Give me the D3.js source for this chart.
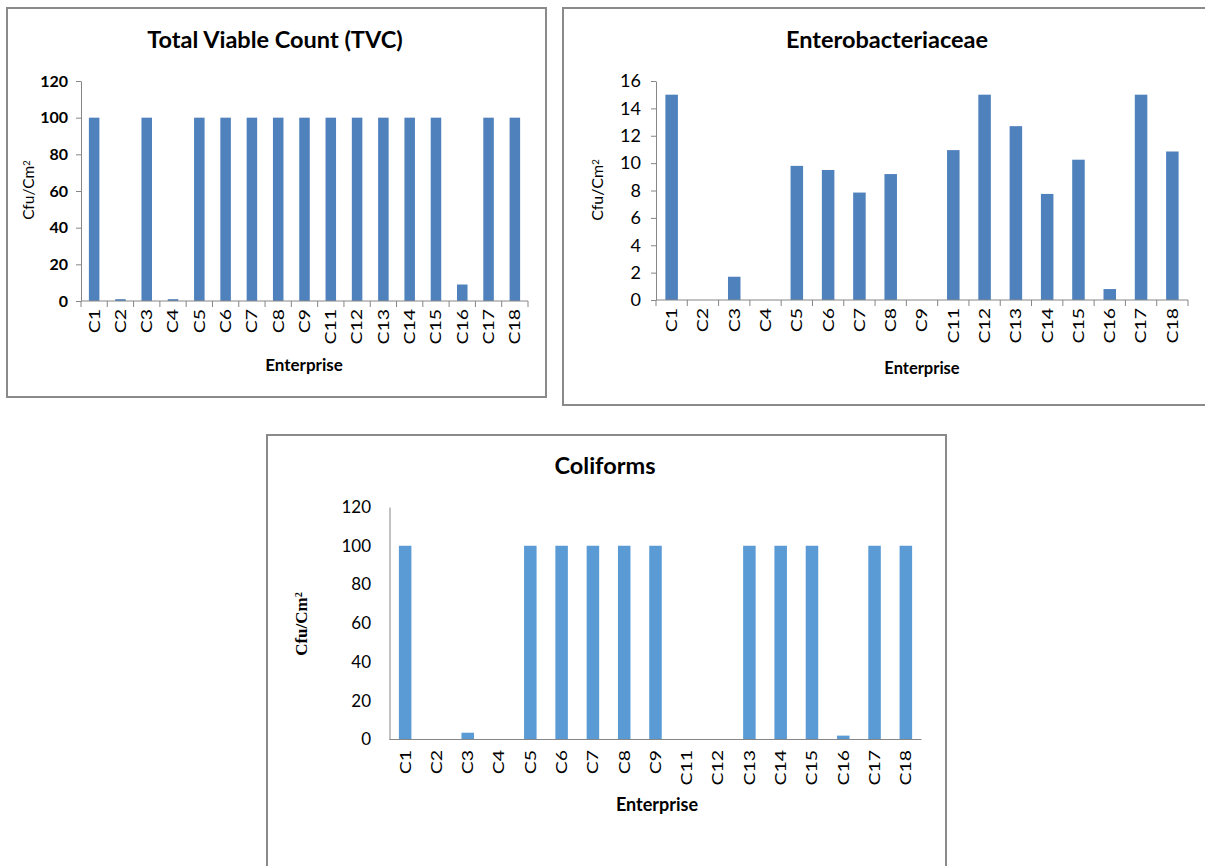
<!DOCTYPE html>
<html>
<head>
<meta charset="utf-8">
<script src="https://cdn.jsdelivr.net/npm/d3@7"></script>
<style>
  html, body { margin: 0; padding: 0; background: #fff; }
  svg { display: block; }
  text { font-family: Lato, "Open Sans", sans-serif; fill: #000; }
</style>
</head>
<body>
<svg id="chart" width="1205" height="866"></svg>
<script>
// Enterprises sampled (C10 was not sampled)
const tvcEnterprises = ["C1","C2","C3","C4","C5","C6","C7","C8","C9","C11","C12","C13","C14","C15","C16","C17","C18"];
const enteroEnterprises = tvcEnterprises.slice();
const coliEnterprises = tvcEnterprises.slice();

// Counts in Cfu/Cm²
const tvcValues    = [100, 1, 100, 1, 100, 100, 100, 100, 100, 100, 100, 100, 100, 100, 9, 100, 100];
const enteroValues = [15, 0, 1.7, 0, 9.8, 9.5, 7.85, 9.2, 0, 10.95, 15, 12.7, 7.75, 10.25, 0.8, 15, 10.85];
const coliValues   = [100, 0, 3.5, 0, 100, 100, 100, 100, 100, 0, 0, 100, 100, 100, 2, 100, 100];

// Y tick labels
const tvcTicks    = [0, 20, 40, 60, 80, 100, 120];
const enteroTicks = [0, 2, 4, 6, 8, 10, 12, 14, 16];
const coliTicks   = [0, 20, 40, 60, 80, 100, 120];

const svg = d3.select("#chart");

function drawPanel(p) {
  const g = svg.append("g");

  // chart frame
  g.append("rect")
    .attr("x", p.frame[0]).attr("y", p.frame[1])
    .attr("width", p.frame[2]).attr("height", p.frame[3])
    .attr("fill", "#fff").attr("stroke", "#8a8a8a").attr("stroke-width", 2);

  const x = d3.scaleBand().domain(p.cats).range([p.x0, p.x1]).paddingInner(0.6).paddingOuter(0.3);
  const y = d3.scaleLinear().domain([0, d3.max(p.ticks)]).range([p.y0, p.y1]);

  // bars
  g.append("g").selectAll("rect").data(p.values).join("rect")
    .attr("x", (d, i) => x(p.cats[i]))
    .attr("y", d => y(d))
    .attr("width", x.bandwidth())
    .attr("height", d => y(0) - y(d))
    .attr("fill", p.color);

  // y axis
  const yAxis = d3.axisLeft(y).tickValues(p.ticks).tickSize(p.tickLen).tickPadding(p.yPad).tickSizeOuter(0);
  const ya = g.append("g").attr("transform", `translate(${p.x0},0)`).call(yAxis);
  ya.select(".domain").attr("stroke", "#868686");
  ya.selectAll(".tick line").attr("stroke", "#868686");
  ya.selectAll(".tick text")
    .style("font-size", p.yFont + "px").style("font-weight", p.yWeight)
    .attr("fill", "#000");

  // x axis: category boundaries carry the tick marks
  const xa = g.append("g").attr("transform", `translate(0,${p.y0})`);
  xa.append("line").attr("x1", p.x0).attr("x2", p.x1).attr("stroke", "#868686");
  if (p.tickLen > 0) {
    const step = x.step();
    const bounds = d3.range(p.cats.length + 1).map(i => p.x0 + i * step);
    xa.selectAll("line.tk").data(bounds).join("line").attr("class", "tk")
      .attr("x1", d => d).attr("x2", d => d).attr("y1", 0).attr("y2", p.tickLen + 1)
      .attr("stroke", "#868686");
  }
  xa.selectAll("text.cat").data(p.cats).join("text").attr("class", "cat")
    .attr("transform", d => `translate(${x(d) + x.bandwidth() / 2},${p.xLabTop - p.y0}) rotate(-90) scale(1.3,1)`)
    .attr("text-anchor", "end")
    .attr("dy", "0.36em")
    .style("font-size", p.xFont + "px")
    .text(d => d);

  // title
  g.append("text").attr("x", p.title[1]).attr("y", p.title[2])
    .attr("text-anchor", "middle").style("font-size", p.titleFont + "px").style("font-weight", 700)
    .text(p.title[0]);

  // axis titles
  g.append("text").attr("x", p.xTitle[0]).attr("y", p.xTitle[1])
    .attr("text-anchor", "middle").style("font-size", p.xTitleFont + "px").style("font-weight", 700)
    .text("Enterprise");

  const yt = g.append("text")
    .attr("transform", `translate(${p.yTitle[0]},${p.yTitle[1]}) rotate(-90)`)
    .attr("text-anchor", "middle")
    .style("font-size", p.yTitleFont + "px")
    .style("font-weight", p.yTitleWeight);
  if (p.yTitleFamily) yt.style("font-family", p.yTitleFamily);
  yt.append("tspan").text("Cfu/Cm");
  yt.append("tspan").attr("dy", "-0.45em").style("font-size", (p.yTitleFont * 0.6) + "px").text("2");
}

drawPanel({
  frame: [7, 8, 539, 389],
  cats: tvcEnterprises, values: tvcValues, ticks: tvcTicks, color: "#4f81bd",
  x0: 81, x1: 528, y0: 301, y1: 81,
  tickLen: 5, yPad: 8, yFont: 16, yWeight: 700,
  xFont: 15, xLabTop: 309,
  title: ["Total Viable Count (TVC)", 275, 48], titleFont: 23.5,
  xTitle: [304, 371], xTitleFont: 17,
  yTitle: [34, 190], yTitleFont: 15.5, yTitleWeight: 400
});

drawPanel({
  frame: [563, 8, 660, 397],
  cats: enteroEnterprises, values: enteroValues, ticks: enteroTicks, color: "#4f81bd",
  x0: 656, x1: 1188, y0: 300, y1: 81,
  tickLen: 5, yPad: 10, yFont: 18, yWeight: 400,
  xFont: 15, xLabTop: 308,
  title: ["Enterobacteriaceae", 887, 48], titleFont: 23.5,
  xTitle: [922, 374], xTitleFont: 16.5,
  yTitle: [603, 190], yTitleFont: 16, yTitleWeight: 400
});

drawPanel({
  frame: [267, 435, 679, 440],
  cats: coliEnterprises, values: coliValues, ticks: coliTicks, color: "#5b9bd5",
  x0: 389.5, x1: 921.5, y0: 739.5, y1: 507,
  tickLen: 0, yPad: 18.5, yFont: 17, yWeight: 400,
  xFont: 15, xLabTop: 750,
  title: ["Coliforms", 605, 474], titleFont: 23.5,
  xTitle: [657, 811], xTitleFont: 18,
  yTitle: [307, 624], yTitleFont: 17, yTitleWeight: 700, yTitleFamily: "'Liberation Serif', serif"
});
</script>
</body>
</html>
